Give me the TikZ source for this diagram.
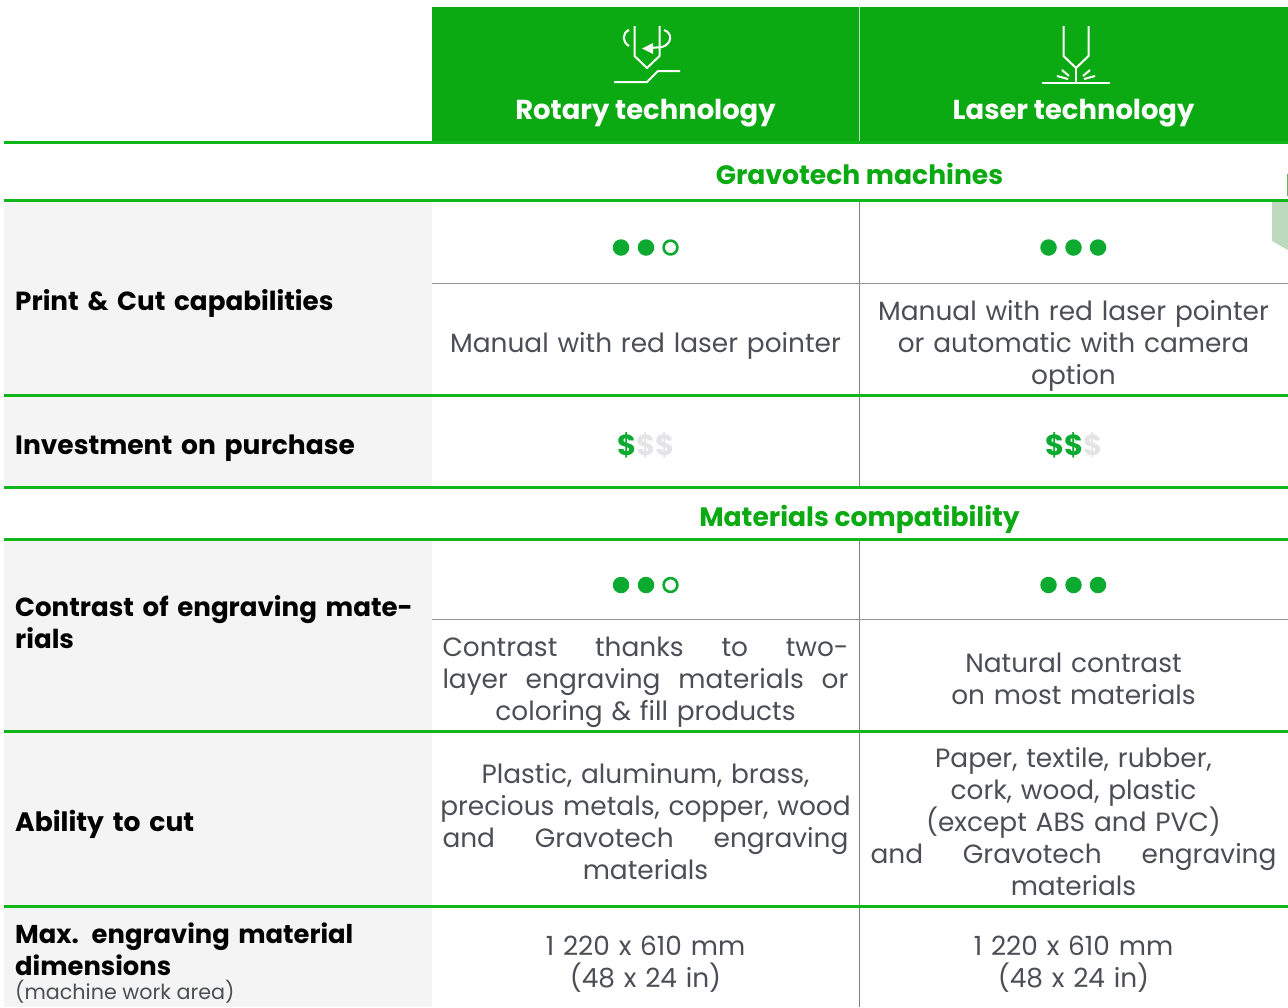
\documentclass[tikz,border=0pt]{standalone}
\usepackage{fontspec}
\setmainfont{Poppins}
\definecolor{hgreen}{HTML}{0BAA12}
\definecolor{lgreen}{HTML}{10B61A}
\definecolor{dgreen}{HTML}{0CAA30}
\definecolor{rowgrey}{HTML}{F4F4F4}
\definecolor{txt}{HTML}{4B4E55}
\definecolor{pale}{HTML}{BDDABF}
\definecolor{faint}{HTML}{E4E4E6}
\tikzset{
 x=1pt,y=-1pt,
 greenrule/.style={draw=lgreen,line width=3pt},
 greyrule/.style={draw=black!42,line width=1pt},
 vrule/.style={draw=black!50,line width=0.9pt},
 body/.style={text=txt,font=\fontsize{26.4}{32}\selectfont,align=center,inner sep=0pt,text width=430pt},
 rowhead/.style={text=black,font=\fontsize{26.2}{32}\selectfont\bfseries,align=left,anchor=west,inner sep=0pt,text width=415pt},
 sect/.style={text=hgreen,font=\fontsize{26.6}{32}\selectfont\bfseries,inner sep=0pt},
 head/.style={text=white,font=\fontsize{27.4}{32}\selectfont\bfseries,inner sep=0pt},
 icon/.style={draw=white,line width=2pt},
 dotf/.style={circle,fill=dgreen,minimum size=16.5pt,inner sep=0pt},
 doto/.style={circle,draw=dgreen,line width=2.6pt,fill=white,minimum size=13.8pt,inner sep=0pt},
 dollar/.style={font=\fontsize{29}{32}\selectfont\bfseries,inner sep=0pt},
}
\newcommand{\jl}[1]{\leavevmode\hbox to 406pt{#1}}
\begin{document}
\begin{tikzpicture}
\useasboundingbox (0,0) rectangle (1288,1007);
\fill[white] (0,0) rectangle (1288,1007);
% pale shape at right edge
\fill[pale] (1272,201) -- (1288,201) -- (1288,250) -- (1272,241) -- cycle;
\fill[pale!70!black!80!green] (1287,174) rectangle (1288,196);
% header
\fill[hgreen] (432,7) rectangle (1288,142);
\draw[white!70!hgreen,line width=0.9pt] (859.5,7) -- (859.5,142);
% grey row heads
\fill[rowgrey] (4,201) rectangle (432,395);
\fill[rowgrey] (4,396) rectangle (432,487);
\fill[rowgrey] (4,540) rectangle (432,731);
\fill[rowgrey] (4,732) rectangle (432,906);
\fill[rowgrey] (4,907) rectangle (432,1007);
% vertical
\draw[vrule] (859.5,201) -- (859.5,487);
\draw[vrule] (859.5,540) -- (859.5,1007);
% thin rules
\draw[greyrule] (432,283.8) -- (1288,283.8);
\draw[greyrule] (432,619.6) -- (1288,619.6);
% green rules
\foreach \yy in {142,200,395,487,539,731,906}{\draw[greenrule] (4,\yy) -- (1288,\yy);}
% icons rotary
\draw[icon] (634.5,26) -- (634.5,56) -- (647,68) -- (659.5,56) -- (659.5,26);
\draw[icon] (629,30) .. controls (622,33) and (622,42) .. (629,46);
\draw[icon] (664,30) .. controls (673,33) and (672,44) .. (662,47) -- (651,48);
\fill[white] (642,48.5) -- (653,43) -- (653,54) -- cycle;
\draw[icon] (614,82) -- (647,82) -- (658,71) -- (680,71);
% icons laser
\draw[icon] (1063.5,26) -- (1063.5,56) -- (1076,68) -- (1088.5,56) -- (1088.5,26);
\draw[icon] (1076,68) -- (1076,84);
\draw[icon] (1042,82.5) -- (1110,82.5);
\draw[icon] (1057,76) -- (1068,79);
\draw[icon] (1062,70) -- (1069,76);
\draw[icon] (1095,76) -- (1084,79);
\draw[icon] (1090,70) -- (1083,76);
% headers
\node[head] (hr) at (645.5,113.5) {Rotary technology};
\node[head] (hl) at (1073.5,113.5) {Laser technology};
\node[sect] (s1) at (859.5,173.5) {Gravotech machines};
\node[sect] (s2) at (859.5,519.5) {Materials compatibility};
% row heads
\node[rowhead] (r1) at (15,303.5) {Print \& Cut capabilities};
\node[rowhead,font=\fontsize{26.5}{32}\selectfont\bfseries] (r2) at (15,448) {Investment on purchase};
\node[rowhead,font=\fontsize{26.1}{32}\selectfont\bfseries] (r3) at (15,622) {Contrast of engraving mate-\\rials};
\node[rowhead,font=\fontsize{26.6}{32}\selectfont\bfseries] (r4) at (15,824) {Ability to cut};
\node[rowhead,font=\fontsize{25.8}{32}\selectfont\bfseries] (r5) at (15,949) {Max. engraving material\\dimensions};
\node[anchor=west,inner sep=0pt,text=txt,font=\fontsize{20.7}{24}\selectfont] (r5b) at (15,992) {(machine work area)};
% dots
\foreach \n/\xc in {a/621,b/646}{\node[dotf] (d1\n) at (\xc,247.5) {}; \node[dotf] (d3\n) at (\xc,585) {};}
\node[doto] (d1c) at (670.5,247.5) {};
\node[doto] (d3c) at (670.5,585) {};
\foreach \n/\xc in {a/1048.5,b/1073.5,c/1098}{\node[dotf] (e1\n) at (\xc,247.5) {}; \node[dotf] (e3\n) at (\xc,585) {};}
% dollars
\node[dollar] (p1) at (646,445) {\textcolor{dgreen}{\$}\textcolor{faint}{\$\$}};
\node[dollar] (p2) at (1074,445) {\textcolor{dgreen}{\$\$}\textcolor{faint}{\$}};
% body
\node[body] (t1) at (645.5,346) {Manual with red laser pointer};
\node[body] (t2) at (1073.5,346) {Manual with red laser pointer\\or automatic with camera\\option};
\node[body] (t3) at (645.5,682) {\jl{Contrast\hfill thanks\hfill to\hfill two-}\\\jl{layer\hfill engraving\hfill materials\hfill or}\\coloring \& fill products};
\node[body] (t4) at (1073.5,679) {Natural contrast\\on most materials};
\node[body] (t5) at (645.5,822) {Plastic, aluminum, brass,\\precious metals, copper, wood\\\jl{and\hfill Gravotech\hfill engraving}\\materials};
\node[body] (t6) at (1073.5,822) {Paper, textile, rubber,\\cork, wood, plastic\\(except ABS and PVC)\\\jl{and\hfill Gravotech\hfill engraving}\\materials};
\node[body] (t7) at (645.5,964) {1 220 x 610 mm\\(48 x 24 in)};
\node[body] (t8) at (1073.5,964) {1 220 x 610 mm\\(48 x 24 in)};
\end{tikzpicture}
\end{document}
